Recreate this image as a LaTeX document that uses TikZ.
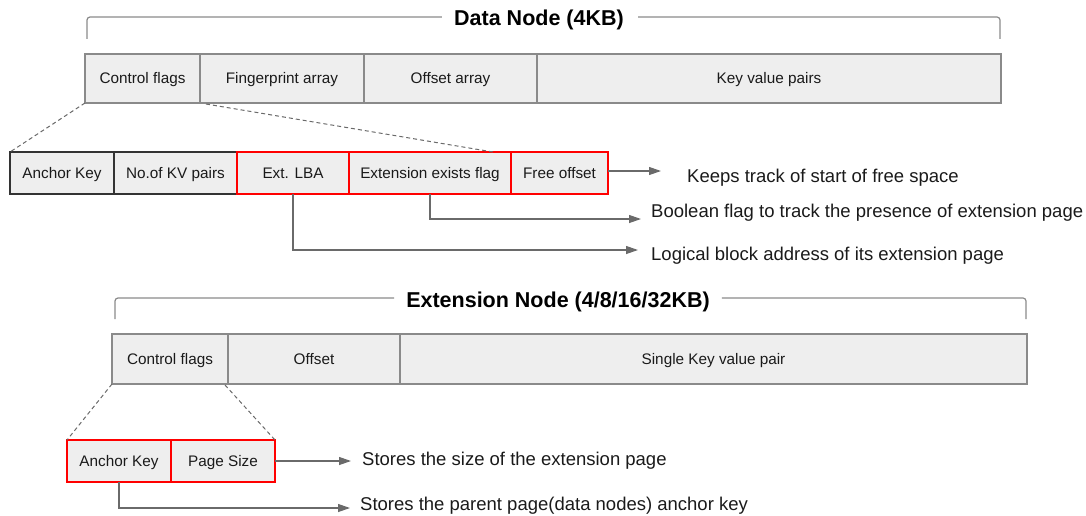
\documentclass[tikz,border=0pt]{standalone}
\usepackage{fontspec}
\setmainfont{Liberation Sans}
\usetikzlibrary{arrows.meta}
\definecolor{cellfill}{HTML}{EEEEEE}
\definecolor{cellline}{HTML}{8A8A8A}
\definecolor{darkline}{HTML}{333333}
\definecolor{arrline}{HTML}{6A6A6A}
\definecolor{txt}{HTML}{1A1A1A}
\tikzset{
  cell/.style={draw=cellline, line width=1.2pt, fill=cellfill, inner sep=0pt, outer sep=0pt,
    anchor=north west, text=txt, font=\fontsize{15.3}{18}\selectfont,
    text height=12.5pt, text depth=1.5pt},
  darkcell/.style={cell, draw=darkline, line width=1.6pt},
  redcell/.style={cell, draw=red, line width=2.6pt},
  bracketline/.style={draw=cellline, line width=1.2pt, rounded corners=3pt},
  zoomline/.style={draw=arrline, line width=1pt, dashed, dash pattern=on 4pt off 3pt},
  arr/.style={draw=arrline, line width=1.2pt, -{Triangle[length=12pt,width=8pt]}},
  note/.style={anchor=west, text=txt, inner sep=0pt, font=\fontsize{18.5}{22}\selectfont,
    text height=15pt, text depth=1pt},
  title/.style={text=black, inner sep=0pt, font=\fontsize{21.5}{25}\selectfont\bfseries,
    text height=15.5pt, text depth=1.5pt}
}
\begin{document}
\begin{tikzpicture}[x=1pt,y=-1pt]
\useasboundingbox (0,0) rectangle (1086,516);

% ---------- Data node ----------
\node[title] (dtitle) at (539,19) {Data Node (4KB)};
\coordinate (db1) at (87,39);
\coordinate (db2) at (87,17);
\coordinate (db3) at (1000,17);
\coordinate (db4) at (1000,39);
\draw[bracketline] (db1) -- (db2) -- ([xshift=-12pt]dtitle.west |- db2);
\draw[bracketline] ([xshift=14pt]dtitle.east |- db3) -- (db3) -- (db4);

\node[cell, minimum width=115pt, minimum height=49pt] (cf) at (85,54) {Control flags};
\node[cell, minimum width=164pt, minimum height=49pt] (fp) at (200,54) {Fingerprint array};
\node[cell, minimum width=173pt, minimum height=49pt] (oa) at (364,54) {Offset array};
\node[cell, minimum width=464pt, minimum height=49pt] (kv) at (537,54) {Key value pairs};

\node[darkcell, minimum width=104pt, minimum height=42pt] (ak) at (10,152) {Anchor Key};
\node[darkcell, minimum width=123pt, minimum height=42pt] (nkv) at (114,152) {No.of KV pairs};
\node[redcell, minimum width=112pt, minimum height=42pt] (lba) at (237,152) {Ext. LBA};
\node[redcell, minimum width=162pt, minimum height=42pt] (eef) at (349,152) {Extension exists flag};
\node[redcell, minimum width=97pt, minimum height=42pt] (fo) at (511,152) {Free offset};

\coordinate (z1) at (206,104);
\coordinate (z2) at (493,152);
\draw[zoomline] (cf.south west) -- (ak.north west);
\draw[zoomline] (z1) -- (z2);

\node[note] (n1) at (687,175) {Keeps track of start of free space};
\node[note] (n2) at (651,210) {Boolean flag to track the presence of extension page};
\node[note] (n3) at (651,253) {Logical block address of its extension page};
\coordinate (e1) at (661,171);
\coordinate (e2) at (641,219);
\coordinate (e3) at (638,250);
\draw[arr] (fo.east |- e1) -- (e1);
\draw[arr] (eef.south) |- (e2);
\draw[arr] (lba.south) |- (e3);

% ---------- Extension node ----------
\node[title] (etitle) at (558,300) {Extension Node (4/8/16/32KB)};
\coordinate (eb1) at (115,319);
\coordinate (eb2) at (115,298);
\coordinate (eb3) at (1026,298);
\coordinate (eb4) at (1026,319);
\draw[bracketline] (eb1) -- (eb2) -- ([xshift=-12pt]etitle.west |- eb2);
\draw[bracketline] ([xshift=12pt]etitle.east |- eb3) -- (eb3) -- (eb4);

\node[cell, minimum width=116pt, minimum height=50pt] (ecf) at (112,334) {Control flags};
\node[cell, minimum width=172pt, minimum height=50pt] (eof) at (228,334) {Offset};
\node[cell, minimum width=627pt, minimum height=50pt] (skv) at (400,334) {Single Key value pair};

\node[redcell, minimum width=104pt, minimum height=42pt] (eak) at (67,440) {Anchor Key};
\node[redcell, minimum width=104pt, minimum height=42pt] (eps) at (171,440) {Page Size};

\coordinate (z3) at (225,385);
\draw[zoomline] (ecf.south west) -- (eak.north west);
\draw[zoomline] (z3) -- (eps.north east);

\node[note] (n4) at (362,458) {Stores the size of the extension page};
\node[note] (n5) at (360,503) {Stores the parent page(data nodes) anchor key};
\coordinate (e4) at (351,461);
\coordinate (e5) at (350,508);
\draw[arr] (eps.east |- e4) -- (e4);
\draw[arr] (eak.south) |- (e5);
\end{tikzpicture}
\end{document}
